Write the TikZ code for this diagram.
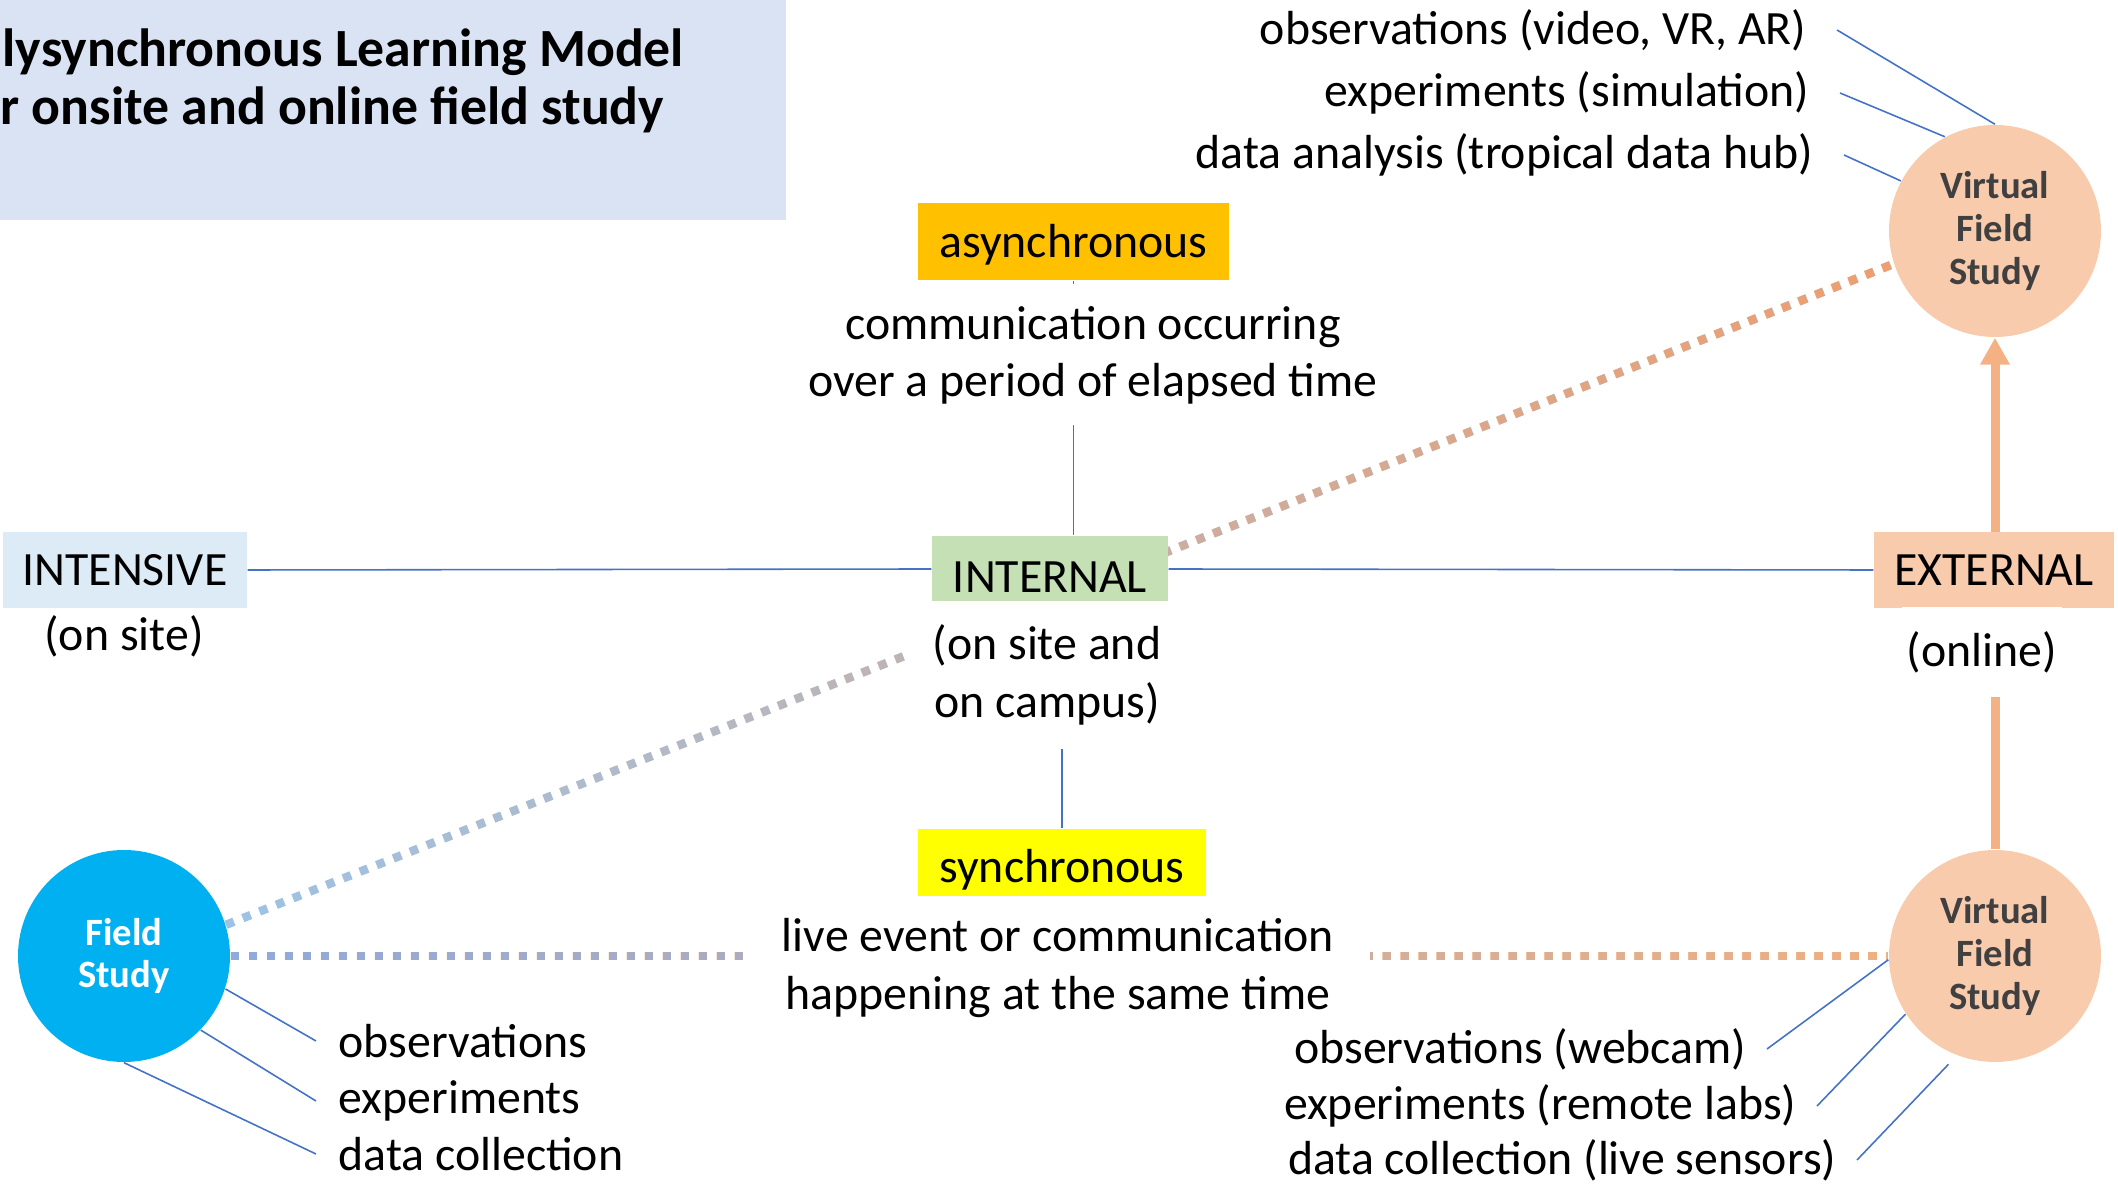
\documentclass[tikz,border=0pt]{standalone}
\usepackage{fontspec}
\setmainfont{Carlito}
\usetikzlibrary{arrows.meta,backgrounds,fadings}

\definecolor{titlebg}{HTML}{DAE3F3}
\definecolor{intensivebg}{HTML}{DDEBF7}
\definecolor{asyncbg}{HTML}{FFC000}
\definecolor{syncbg}{HTML}{FFFF00}
\definecolor{internalbg}{HTML}{C5E0B4}
\definecolor{externalbg}{HTML}{F8CBAD}
\definecolor{fieldbg}{HTML}{00B0F0}
\definecolor{virtualbg}{HTML}{F8CBAD}
\definecolor{virtualtext}{HTML}{404040}
\definecolor{lineblue}{HTML}{4472C4}
\definecolor{arroworange}{HTML}{F4B183}
\definecolor{dotsblue}{HTML}{9DC3E6}
\definecolor{dotsgrey}{HTML}{8FAADC}
\definecolor{dotsorange}{HTML}{F09E6C}
\definecolor{dotspeach}{HTML}{F0B080}

\tikzfading[name=fade in right, left color=transparent!100, right color=transparent!0]

\begin{document}
\begin{tikzpicture}[
        box/.style = {font=\fontsize{13.6}{16.3}\selectfont, inner sep=0pt},
        note/.style = {font=\fontsize{13.6}{16.3}\selectfont, align=center, fill=white, inner sep=0pt},
        item/.style = {font=\fontsize{13.6}{16.3}\selectfont, inner ysep=0pt, inner xsep=#1},
        item/.default = 0.2cm,
        study/.style = {circle, minimum size=2.12cm, inner sep=0pt, align=center,
                        font=\bfseries\fontsize{11}{12.2}\selectfont},
        link/.style = {lineblue, line width=0.45pt},
        dots/.style = {line width=0.085cm, dash pattern=on 0.085cm off 0.095cm}
    ]
    \useasboundingbox (0, 0) rectangle (21.18, 11.89);

    % title
    \fill[titlebg] (0, 11.89) rectangle (7.86, 9.69);
    \node[anchor=west, inner sep=0pt, font=\bfseries\fontsize{15.3}{16.5}\selectfont] (ttlA) at (0.02, 11.37) {lysynchronous Learning Model};
    \node[anchor=west, inner sep=0pt, font=\bfseries\fontsize{15.3}{16.5}\selectfont] (ttlB) at (0, 10.79) {r onsite and online field study};

    % boxes and their notes
    \node[box, fill=asyncbg, minimum width=3.11cm, minimum height=0.77cm, text height=0.42cm, text depth=0.09cm] (async) at (10.735, 9.475) {asynchronous};
    \node[note, minimum width=5.9cm, minimum height=1.41cm] (asyncTxt) at (10.93, 8.34) {communication occurring\\over a period of elapsed time};
    \node[box, fill=intensivebg, minimum width=2.44cm, minimum height=0.76cm] (intensive) at (1.25, 6.19) {INTENSIVE};
    \node[note] (intensiveTxt) at (1.24, 5.53) {(on site)};
    \node[box, fill=internalbg, minimum width=2.36cm, minimum height=0.66cm, text height=0.47cm, text depth=0cm] (internal) at (10.50, 6.20) {INTERNAL};
    \node[note, minimum width=2.78cm, minimum height=1.48cm] (internalTxt) at (10.47, 5.14) {(on site and\\on campus)};
    \node[box, fill=externalbg, minimum width=2.40cm, minimum height=0.76cm] (external) at (19.94, 6.19) {EXTERNAL};
    \node[note, minimum width=1.6cm, minimum height=0.9cm] (externalTxt) at (19.82, 5.37) {(online)};
    \node[box, fill=syncbg, minimum width=2.88cm, minimum height=0.67cm, text height=0.49cm, text depth=0.09cm] (sync) at (10.62, 3.265) {synchronous};
    \node[note, minimum width=6.24cm, minimum height=1.2cm] (syncTxt) at (10.58, 2.21) {live event or communication\\happening at the same time};

    % studies
    \node[study, fill=fieldbg, text=white] (fs) at (1.24, 2.33) {Field\\Study};
    \node[study, fill=virtualbg, text=virtualtext] (vfsA) at (19.95, 9.58) {Virtual\\Field\\Study};
    \node[study, fill=virtualbg, text=virtualtext] (vfsB) at (19.95, 2.33) {Virtual\\Field\\Study};

    % activities
    \node[item=0.3cm, anchor=east] (obsV) at (18.37, 11.59) {observations (video, VR, AR)};
    \node[item=0.3cm, anchor=east] (expV) at (18.40, 10.96) {experiments (simulation)};
    \node[item=0.3cm, anchor=east] (datV) at (18.44, 10.34) {data analysis (tropical data hub)};
    \node[item, anchor=east] (obsW) at (17.67, 1.40) {observations (webcam)};
    \node[item, anchor=east] (expW) at (18.17, 0.83) {experiments (remote labs)};
    \node[item, anchor=east] (datW) at (18.57, 0.29) {data collection (live sensors)};
    \node[item=0.22cm, anchor=west] (obsF) at (3.16, 1.48) {observations};
    \node[item=0.22cm, anchor=west] (expF) at (3.16, 0.88) {experiments};
    \node[item=0.22cm, anchor=west] (datF) at (3.16, 0.35) {data collection};

    \begin{scope}[on background layer]
        \draw[link] (intensive.east) -- (internal.west);
        \draw[link] (internal.east) -- (external.west);
        \draw[link] (async.south) -- (async.south |- internal.north);
        \draw[link] (sync.north) -- (sync.north |- internal.south);
        \draw[arroworange, line width=0.09cm, -{Triangle[width=0.28cm, length=0.27cm]}] (vfsB.north) -- (vfsA.south);
        % dotted links, blue fading into orange
        \draw[dots, dotsblue] (fs.17) -- (vfsA.198);
        \draw[dots, dotsorange, path fading=fade in right] (fs.17) -- (vfsA.198);
        \draw[dots, dotsgrey] (fs.east) -- (vfsB.west) ([yshift=1mm]fs.east) ([yshift=-1mm]fs.east);
        \draw[dots, dotspeach, path fading=fade in right] (fs.east) -- (vfsB.west) ([yshift=1mm]fs.east) ([yshift=-1mm]fs.east);
        \draw[link] (obsV.east) -- (vfsA.north);
        \draw[link] (expV.east) -- (vfsA.118);
        \draw[link] (datV.east) -- (vfsA.152);
        \draw[link] (obsW.east) -- (vfsB.182);
        \draw[link] (expW.east) -- (vfsB.213);
        \draw[link, shorten >=0.12cm] (datW.east) -- (vfsB.249);
        \draw[link] (obsF.west) -- (fs.-18);
        \draw[link] (expF.west) -- (fs.-44);
        \draw[link] (datF.west) -- (fs.south);
    \end{scope}
\end{tikzpicture}
\end{document}
